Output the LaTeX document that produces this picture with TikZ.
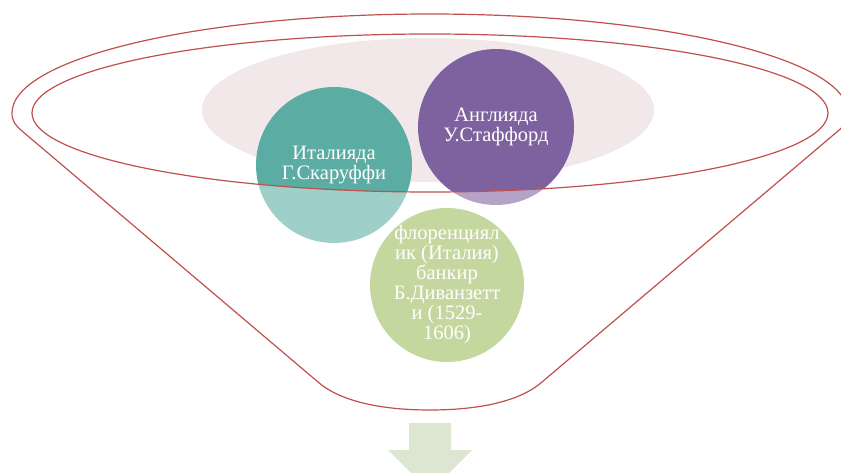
\documentclass[tikz,border=0pt]{standalone}
\usepackage{fontspec}
\setmainfont{Liberation Serif}
\definecolor{pinkfill}{HTML}{F2E8E9}
\definecolor{teal1}{HTML}{5BADA3}
\definecolor{purple1}{HTML}{7E62A0}
\definecolor{green1}{HTML}{9BBB59}
\definecolor{funnelred}{HTML}{C0504D}
\definecolor{arrowfill}{HTML}{DCE6D1}
\begin{document}
\begin{tikzpicture}[x=1pt,y=-1pt,
  bubble/.style={circle, minimum size=156pt, inner sep=-8pt, text=white, align=center,
    font=\fontsize{20.5}{20}\selectfont},
  redline/.style={draw=funnelred, line width=1.2pt},
  funnelpath/.style={insert path={(12,113) .. controls (12,121) and (15,125) .. (22,131)
    -- (318,382) .. controls (336,398) and (372,410) .. (430,410)
    .. controls (488,410) and (524,398) .. (542,382)
    -- (838,131) .. controls (845,125) and (848,121) .. (848,113)
    .. controls (848,58.3) and (660.9,14) .. (430,14)
    .. controls (199.1,14) and (12,58.3) .. (12,113) -- cycle}}
]
\useasboundingbox (0,0) rectangle (841,473);
\clip (0,0) rectangle (841,473);
% opening of the funnel
\fill[pinkfill] (428,110) ellipse[x radius=226pt, y radius=72pt];
% items
\node[bubble, fill=teal1] (ital) at (334,165) {Италияда\\Г.Скаруффи};
\node[bubble, fill=purple1] (angl) at (496,127) {Англияда\\У.Стаффорд};
\node[bubble, fill=green1, minimum size=154pt] (flor) at (447,285)
  {флоренциял\\ик (Италия)\\банкир\\Б.Диванзетт\\и (1529-\\1606)};
% translucent funnel body
\fill[white, fill opacity=0.42, even odd rule, funnelpath]
  (430,113) ellipse[x radius=398pt, y radius=79pt];
% outlines
\draw[redline, funnelpath];
\draw[redline] (430,113) ellipse[x radius=398pt, y radius=79pt];
% arrow below
\fill[arrowfill] (409,423) -- (451,423) -- (451,450) -- (472,450) -- (430,492)
  -- (388,450) -- (409,450) -- cycle;
\end{tikzpicture}
\end{document}
